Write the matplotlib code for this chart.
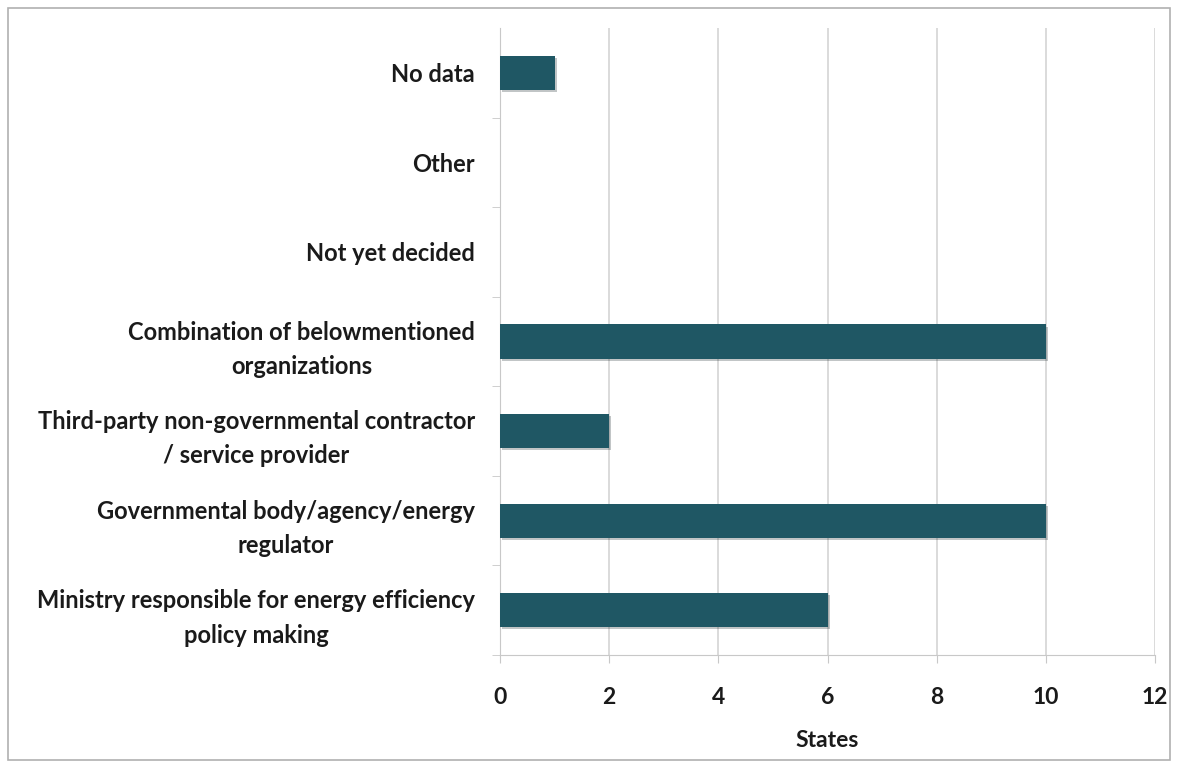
import matplotlib.pyplot as plt
from matplotlib.patches import Rectangle
import matplotlib.patheffects as pe

categories = [
    "Ministry responsible for energy efficiency\npolicy making",
    "Governmental body/agency/energy\nregulator",
    "Third-party non-governmental contractor\n/ service provider",
    "Combination of belowmentioned\norganizations",
    "Not yet decided",
    "Other",
    "No data",
]
states = [6, 10, 2, 10, 0, 0, 1]
xticks = [0, 2, 4, 6, 8, 10, 12]

BAR = "#1f5764"
FONT = ["Lato", "DejaVu Sans"]
FS = 17

fig = plt.figure(figsize=(11.8, 7.66), dpi=100)
ax = fig.add_axes([500 / 1180, 1 - 655 / 766, 655 / 1180, 627 / 766])

ypos = list(range(len(categories)))
ax.barh(ypos, states, height=0.38, color=BAR, zorder=3,
        path_effects=[pe.SimplePatchShadow(offset=(1.5, -1.5), alpha=0.25),
                      pe.Normal()])

ax.set_xlim(0, 12)
ax.set_ylim(-0.5, len(categories) - 0.5)
ax.set_xticks(xticks)
ax.set_xticklabels([str(t) for t in xticks], fontsize=16.5, fontweight="bold",
                   family=FONT, color="#1a1a1a")
ax.set_yticks(ypos)
ax.set_yticklabels(categories, fontsize=FS, fontweight="bold", family=FONT,
                   ha="right", multialignment="center", linespacing=1.6,
                   color="#1a1a1a")
ax.tick_params(axis="y", length=0, pad=18)
ax.set_yticks([y + 0.5 for y in ypos[:-1]] + [-0.5], minor=True)
ax.tick_params(axis="y", which="minor", length=6, color="#c8c8c8", direction="out")
ax.tick_params(axis="x", length=6, color="#c8c8c8", direction="out", pad=17)

ax.grid(axis="x", color="#d4d4d4", linewidth=1.2, zorder=0)
for s in ["top", "right"]:
    ax.spines[s].set_visible(False)
ax.spines["left"].set_color("#c8c8c8")
ax.spines["bottom"].set_color("#c8c8c8")

ax.set_xlabel("States", fontsize=16.5, fontweight="bold", family=FONT,
              labelpad=16, color="#1a1a1a")

# thin frame around the whole chart
fig.patches.append(Rectangle((8 / 1180, 6 / 766), 1162 / 1180, 752 / 766,
                             transform=fig.transFigure, fill=False,
                             edgecolor="#b0b0b0", linewidth=1.2))

fig.savefig("out.png", dpi=100)
